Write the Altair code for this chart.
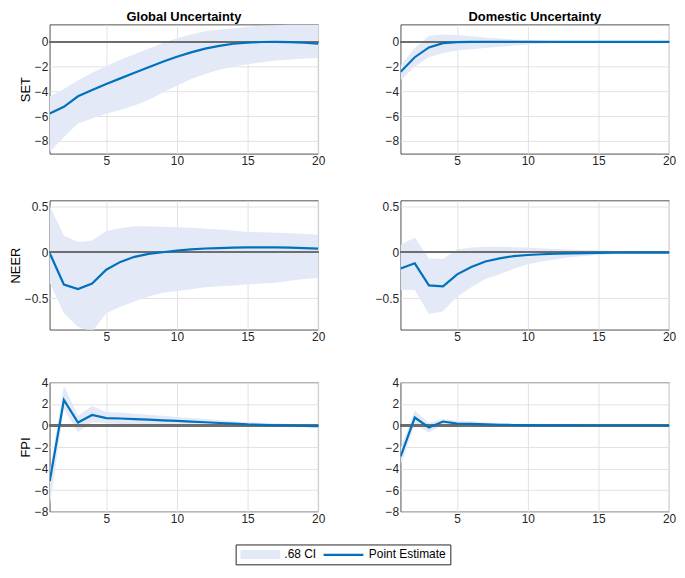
import altair as alt
import pandas as pd

h = list(range(1, 21))

# SET response to global uncertainty
set_glob_pt = [-5.8, -5.25, -4.4, -3.9, -3.4, -2.95, -2.5, -2.05, -1.6, -1.2,
               -0.85, -0.55, -0.32, -0.15, -0.06, -0.01, 0.0, -0.02, -0.07, -0.15]
set_glob_lo = [-8.9, -7.7, -6.6, -6.2, -5.8, -5.5, -5.15, -4.7, -4.1, -3.55,
               -3.0, -2.6, -2.25, -2.0, -1.8, -1.65, -1.5, -1.42, -1.35, -1.3]
set_glob_hi = [-4.4, -3.8, -3.1, -2.5, -1.95, -1.45, -1.0, -0.55, -0.1, 0.3,
               0.6, 0.85, 1.0, 1.1, 1.2, 1.3, 1.35, 1.4, 1.4, 1.4]
# SET response to domestic uncertainty
set_dom_pt = [-2.42, -1.24, -0.45, -0.1, -0.02, 0.0, 0.01, 0.01, 0.01, 0.01,
              0.01, 0.01, 0.0, 0.0, 0.0, 0.0, 0.0, 0.0, 0.0, 0.0]
set_dom_lo = [-3.1, -2.0, -1.25, -0.9, -0.7, -0.6, -0.5, -0.4, -0.3, -0.22,
              -0.15, -0.1, -0.07, -0.05, -0.04, -0.03, -0.03, -0.02, -0.02, -0.02]
set_dom_hi = [-1.9, -0.5, 0.5, 0.6, 0.55, 0.45, 0.35, 0.28, 0.2, 0.15,
              0.1, 0.08, 0.06, 0.05, 0.04, 0.03, 0.03, 0.02, 0.02, 0.02]
# NEER response to global uncertainty
neer_glob_pt = [-0.01, -0.35, -0.40, -0.34, -0.19, -0.105, -0.05, -0.018, 0.0, 0.018,
                0.03, 0.04, 0.045, 0.05, 0.052, 0.053, 0.052, 0.05, 0.045, 0.038]
neer_glob_lo = [-0.33, -0.66, -0.81, -0.86, -0.66, -0.59, -0.535, -0.48, -0.44, -0.42,
                -0.40, -0.38, -0.37, -0.36, -0.35, -0.34, -0.33, -0.31, -0.29, -0.28]
neer_glob_hi = [0.5, 0.18, 0.11, 0.127, 0.23, 0.26, 0.28, 0.28, 0.275, 0.27,
                0.265, 0.255, 0.245, 0.235, 0.22, 0.215, 0.21, 0.205, 0.2, 0.19]
# NEER response to domestic uncertainty
neer_dom_pt = [-0.176, -0.12, -0.36, -0.37, -0.24, -0.16, -0.10, -0.067, -0.042, -0.03,
               -0.022, -0.016, -0.012, -0.01, -0.008, -0.006, -0.005, -0.004, -0.004, -0.004]
neer_dom_lo = [-0.41, -0.41, -0.67, -0.64, -0.48, -0.38, -0.29, -0.24, -0.18, -0.13,
               -0.1, -0.075, -0.055, -0.04, -0.03, -0.025, -0.02, -0.016, -0.013, -0.01]
neer_dom_hi = [0.08, 0.16, -0.067, -0.074, 0.03, 0.05, 0.06, 0.06, 0.055, 0.05,
               0.04, 0.035, 0.03, 0.025, 0.02, 0.015, 0.012, 0.01, 0.008, 0.006]
# FPI response to global uncertainty
fpi_glob_pt = [-5.17, 2.37, 0.28, 0.98, 0.68, 0.65, 0.6, 0.55, 0.48, 0.43,
               0.36, 0.3, 0.23, 0.17, 0.1, 0.06, 0.02, 0.0, -0.03, -0.05]
fpi_glob_lo = [-7.5, 1.5, -0.6, 0.3, 0.2, 0.15, 0.1, 0.05, 0.05, 0.0,
               -0.05, -0.05, -0.07, -0.08, -0.1, -0.12, -0.14, -0.15, -0.17, -0.2]
fpi_glob_hi = [-4.3, 3.7, 0.9, 1.8, 1.25, 1.2, 1.1, 1.0, 0.9, 0.8,
               0.7, 0.6, 0.5, 0.4, 0.3, 0.25, 0.2, 0.15, 0.1, 0.1]
# FPI response to domestic uncertainty
fpi_dom_pt = [-2.86, 0.74, -0.18, 0.37, 0.18, 0.15, 0.1, 0.07, 0.05, 0.03,
              0.02, 0.01, 0.01, 0.0, 0.0, 0.0, 0.0, 0.0, 0.0, 0.0]
fpi_dom_lo = [-3.7, 0.1, -0.65, 0.1, -0.05, -0.05, -0.05, -0.04, -0.04, -0.03,
              -0.03, -0.02, -0.02, -0.02, -0.02, -0.02, -0.02, -0.02, -0.02, -0.02]
fpi_dom_hi = [-2.1, 1.4, 0.25, 0.6, 0.45, 0.4, 0.3, 0.2, 0.15, 0.1,
              0.08, 0.06, 0.05, 0.04, 0.03, 0.03, 0.02, 0.02, 0.02, 0.02]

shocks = ["Global Uncertainty", "Domestic Uncertainty"]
variables = ["SET", "NEER", "FPI"]
y_domains = {"SET": [-9.05, 1.4], "NEER": [-0.84, 0.56], "FPI": [-8, 4]}
y_ticks = {"SET": [-8, -6, -4, -2, 0], "NEER": [-0.5, 0, 0.5], "FPI": [-8, -6, -4, -2, 0, 2, 4]}
x_ticks = [5, 10, 15, 20]
series_names = [".68 CI", "Point Estimate"]

data = {
    ("SET", 0): (set_glob_pt, set_glob_lo, set_glob_hi),
    ("SET", 1): (set_dom_pt, set_dom_lo, set_dom_hi),
    ("NEER", 0): (neer_glob_pt, neer_glob_lo, neer_glob_hi),
    ("NEER", 1): (neer_dom_pt, neer_dom_lo, neer_dom_hi),
    ("FPI", 0): (fpi_glob_pt, fpi_glob_lo, fpi_glob_hi),
    ("FPI", 1): (fpi_dom_pt, fpi_dom_lo, fpi_dom_hi),
}

BAND = "#E3E9F7"
LINE = "#0072BD"
FONT = "Liberation Sans"

# fill legend holds both labels and the frame; the second swatch is invisible
fill_scale = alt.Scale(domain=series_names, range=[BAND, "rgba(0,0,0,0)"])
stroke_scale = alt.Scale(domain=[series_names[1]], range=[LINE])

LEG_X, LEG_Y = 187, 523
fill_legend = alt.Legend(
    orient="none", legendX=LEG_X, legendY=LEG_Y, direction="horizontal", title=None,
    strokeColor="#262626", fillColor="white", padding=4, gridAlign="none",
    symbolType="M-4,-0.9H4V0.9H-4Z", symbolSize=100, symbolOffset=15,
    symbolStrokeWidth=0, labelOffset=18, columnPadding=7,
    labelFont=FONT, labelFontSize=12, labelColor="black",
)
stroke_legend = alt.Legend(
    orient="none", legendX=LEG_X + 83, legendY=LEG_Y, direction="horizontal", title=None,
    padding=4, symbolType="M-4,0H4", symbolSize=100, symbolOffset=15,
    symbolStrokeWidth=2.2, labelExpr="''", labelOffset=0,
    labelFont=FONT, labelFontSize=12,
)


def panel(var, j):
    pt, lo, hi = data[(var, j)]
    band_df = pd.DataFrame({"h": h, "lo": lo, "hi": hi, "series": series_names[0]})
    line_df = pd.DataFrame({"h": h, "pt": pt, "series": series_names[1]})
    xscale = alt.Scale(domain=[1, 20], nice=False, zero=False)
    xaxis = alt.Axis(values=x_ticks, title=None, labelFlush=False)
    yscale = alt.Scale(domain=y_domains[var], nice=False, zero=False)
    yaxis = alt.Axis(values=y_ticks[var], title=var if j == 0 else None,
                     labelFlush=False, labelOverlap=False, format="~g")
    band = alt.Chart(band_df).mark_area(clip=True, opacity=1).encode(
        x=alt.X("h:Q", scale=xscale, axis=xaxis),
        y=alt.Y("lo:Q", scale=yscale, axis=yaxis),
        y2="hi:Q",
        fill=alt.Fill("series:N", scale=fill_scale, legend=fill_legend),
    )
    zero = alt.Chart(band_df).mark_rule(color="#6e6e6e", strokeWidth=1.5).encode(
        y=alt.datum(0, scale=yscale, axis=yaxis)
    )
    line = alt.Chart(line_df).mark_line(clip=True, strokeWidth=2.2).encode(
        x=alt.X("h:Q", scale=xscale, axis=xaxis),
        y=alt.Y("pt:Q", scale=yscale, axis=yaxis),
        stroke=alt.Stroke("series:N", scale=stroke_scale, legend=stroke_legend),
    )
    props = dict(width=270, height=130)
    if var == "SET":
        props["title"] = alt.TitleParams(shocks[j], fontSize=13, fontWeight="bold",
                                         font=FONT, color="black", offset=1)
    return alt.layer(band, zero, line).properties(**props)


panels = [panel(v, j) for v in variables for j in range(2)]

chart = alt.concat(*panels, columns=2, spacing=alt.RowColnumber(row=32, column=48)).resolve_scale(
    x="independent", y="independent", fill="shared", stroke="shared"
).resolve_legend(fill="shared", stroke="shared").properties(
    padding=0
).configure(font=FONT).configure_view(
    stroke="#262626", strokeWidth=0.8
).configure_axis(
    domain=False, ticks=False, labelPadding=2,
    labelFont=FONT, labelFontSize=12, labelColor="#262626",
    titleFont=FONT, titleFontSize=13, titleFontWeight="normal", titleColor="black",
    titlePadding=2, gridColor="#e2e2e2", gridWidth=1,
)

chart.save("out.html", embed_options={"renderer": "svg", "actions": False})
